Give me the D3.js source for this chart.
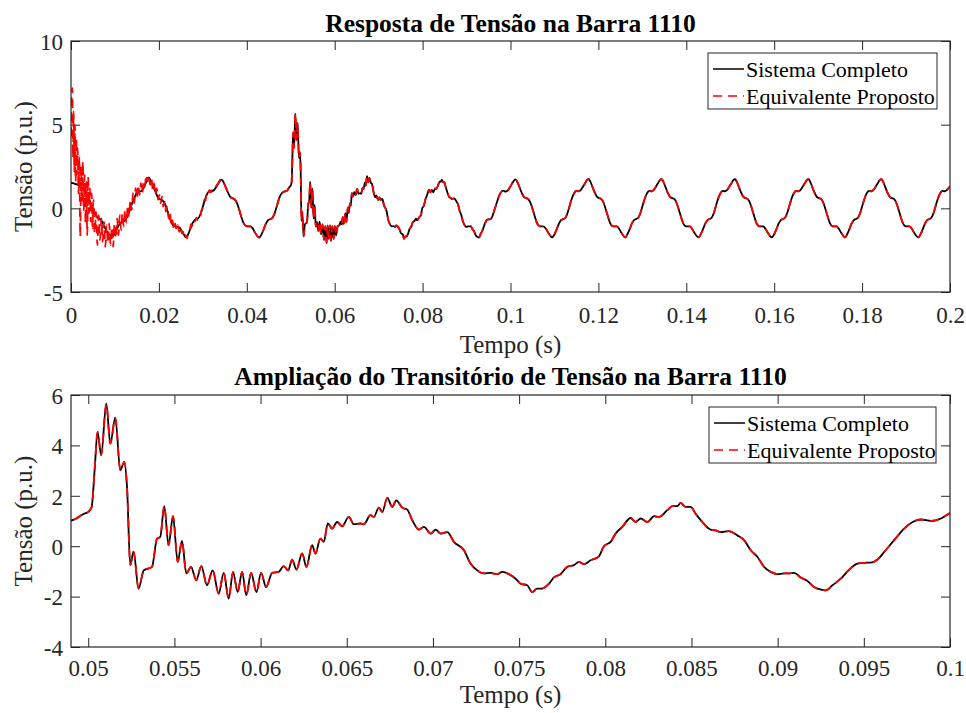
<!DOCTYPE html>
<html>
<head>
<meta charset="utf-8">
<script src="https://cdn.jsdelivr.net/npm/d3@7"></script>
<style>
  body { margin: 0; background: #fff; }
  svg { display: block; }
  text { font-family: "Liberation Serif", "Times New Roman", serif; }
</style>
</head>
<body>
<svg id="fig" width="966" height="713"></svg>
<script>
// Bus 1110 voltage (p.u.) versus time (ms) — full system model
const sistemaCompleto = [
  [0,1.52],[0.5,1.5],[1,1.45],[1.5,1.42],[2,1.3],[2.5,1.2],[3,1.05],[3.5,0.85],[4,0.6],[4.5,0.3],
  [5,0],[5.5,-0.3],[6,-0.55],[6.5,-0.62],[7,-0.75],[7.5,-1.05],[8,-1.3],[8.5,-1.5],[9,-1.62],[9.4,-1.68],
  [9.9,-1.52],[10.4,-1.25],[10.9,-1],[11.4,-0.85],[11.9,-0.8],[12.4,-0.65],[12.9,-0.45],[13.4,-0.1],[13.9,0.3],[14.4,0.62],
  [14.9,0.88],[15.4,1],[15.9,1.02],[16.4,1.15],[16.9,1.45],[17.4,1.75],[17.7,1.85],[18.2,1.6],[18.7,1.3],[19.2,1],
  [19.7,0.7],[20.2,0.55],[20.7,0.5],[21.2,0.35],[21.7,0.05],[22.2,-0.35],[22.7,-0.75],[23.2,-1],[23.7,-1.08],[24.2,-1.1],
  [24.7,-1.15],[25.2,-1.35],[25.7,-1.58],[26.1,-1.74],[26.6,-1.58],[27.1,-1.25],[27.6,-0.92],[28.1,-0.7],[28.6,-0.64],[29.1,-0.55],
  [29.6,-0.25],[30.1,0.2],[30.6,0.62],[31.1,0.92],[31.6,1.04],[32.1,1.02],[32.6,1.1],[33.1,1.3],[33.6,1.52],[34,1.68],
  [34.3,1.72],[34.8,1.52],[35.3,1.2],[35.8,0.9],[36.3,0.66],[36.8,0.6],[37.3,0.52],[37.8,0.3],[38.3,-0.1],[38.8,-0.55],
  [39.3,-0.9],[39.8,-1.05],[40.3,-1.08],[40.8,-1.08],[41.3,-1.18],[41.8,-1.42],[42.3,-1.62],[42.8,-1.75],[43.3,-1.58],[43.8,-1.28],
  [44.3,-0.95],[44.8,-0.72],[45.3,-0.65],[45.8,-0.58],[46.3,-0.32],[46.8,0.1],[47.3,0.55],[47.8,0.85],[48.3,0.98],[48.8,1.02],
  [49.05,1.03],[49.3,1.1],[49.7,1.27],[50,1.36],[50.2,1.56],[50.37,3.01],[50.54,4.54],[50.75,3.61],[51.05,5.66],[51.28,4.07],
  [51.57,5.1],[51.86,3.01],[52.09,3.35],[52.25,2.35],[52.44,-0.75],[52.63,-0.22],[52.92,-1.68],[53.22,-0.96],[53.7,-0.82],[53.99,0.3],
  [54.18,0.37],[54.41,1.59],[54.66,0.04],[54.92,1.19],[55.19,-0.62],[55.44,0.21],[55.69,-1.08],[55.96,-0.82],[56.27,-1.35],[56.56,-0.79],
  [56.89,-1.55],[57.22,-0.96],[57.57,-1.88],[57.86,-1.06],[58.15,-2.08],[58.4,-1.02],[58.67,-1.82],[58.93,-1.02],[59.17,-1.95],[59.45,-1.06],
  [59.76,-1.82],[60.03,-1.06],[60.32,-1.62],[60.67,-1.06],[61.05,-1.02],[61.34,-0.79],[61.6,-0.96],[61.83,-0.53],[62.08,-0.93],[62.41,-0.29],
  [62.66,-0.82],[62.99,0.04],[63.18,-0.29],[63.47,0.3],[63.67,0.17],[63.9,0.9],[64.15,0.7],[64.44,0.96],[64.73,0.79],[65.12,1.16],
  [65.41,0.87],[65.8,0.9],[65.99,0.87],[66.38,1.23],[66.57,1.16],[66.86,1.53],[67.06,1.36],[67.35,1.92],[67.64,1.56],[67.87,1.82],
  [68.22,1.53],[68.51,1.45],[68.8,1.03],[69.19,0.66],[69.48,0.77],[69.87,0.5],[70.16,0.66],[70.45,0.5],[70.83,0.56],[71.22,0.17],
  [71.8,-0.16],[72.18,-0.69],[72.57,-0.96],[72.96,-1.08],[73.34,-1.06],[73.73,-1.11],[74.02,-1.02],[74.41,-1.11],[74.8,-1.29],[75.09,-1.49],
  [75.47,-1.55],[75.76,-1.82],[76.05,-1.68],[76.34,-1.68],[76.73,-1.49],[77.02,-1.24],[77.4,-1.11],[77.79,-0.82],[78.18,-0.75],[78.47,-0.62],
  [78.76,-0.71],[79.15,-0.56],[79.63,-0.4],[79.92,0],[80.31,0.17],[80.6,0.5],[80.99,0.77],[81.47,1.12],[81.76,0.96],[82.06,1.1],
  [82.44,0.96],[82.83,1.19],[83.12,1.16],[83.6,1.43],[83.89,1.59],[84.18,1.59],[84.37,1.72],[84.66,1.56],[84.95,1.56],[85.24,1.29],
  [85.63,0.96],[86.11,0.66],[86.4,0.63],[86.69,0.56],[87.17,0.6],[87.66,0.43],[88.05,0.24],[88.44,-0.16],[88.82,-0.42],[89.21,-0.82],
  [89.6,-1.02],[89.99,-1.11],[90.37,-1.08],[90.66,-1.08],[90.95,-1.06],[91.34,-1.24],[91.73,-1.38],[92.11,-1.62],[92.5,-1.72],[92.79,-1.75],
  [93.18,-1.55],[93.66,-1.29],[94.15,-0.93],[94.63,-0.69],[95.02,-0.66],[95.41,-0.65],[95.8,-0.53],[96.18,-0.23],[96.76,0.24],[97.34,0.7],
  [97.83,0.96],[98.31,1.06],[98.9,1],[99.48,1.1],[100,1.32],
  [100.6,1.58],[101.1,1.73],[101.6,1.56],[102.1,1.22],[102.6,0.9],[103.1,0.67],[103.6,0.61],[104.1,0.54],[104.6,0.3],[105.1,-0.1],
  [105.6,-0.55],[106.1,-0.92],[106.6,-1.06],[107.1,-1.08],[107.6,-1.09],[108.1,-1.24],[108.6,-1.46],[109.1,-1.65],[109.45,-1.74],
  [110,-1.56],[110.5,-1.26],[111,-0.93],[111.5,-0.71],[112,-0.64],[112.5,-0.56],[113,-0.26],[113.5,0.19],[114,0.62],[114.5,0.92],
  [115,1.04],[115.5,1.02],[116,1.1],[116.5,1.3],[117,1.52],[117.4,1.68],[117.8,1.74],[118.2,1.58],[118.7,1.25],[119.2,0.92],
  [119.7,0.68],[120.2,0.61],[120.7,0.55],[121.2,0.32],[121.7,-0.08],[122.2,-0.52],[122.7,-0.9],[123.2,-1.06],[123.7,-1.08],[124.2,-1.08],
  [124.7,-1.22],[125.2,-1.44],[125.7,-1.64],[126.1,-1.74],
  [126.6,-1.55],[127.1,-1.25],[127.6,-0.92],[128.1,-0.7],[128.6,-0.64],[129.1,-0.55],[129.6,-0.25],[130.1,0.2],[130.6,0.62],[131.1,0.92],
  [131.6,1.04],[132.1,1.02],[132.6,1.1],[133.1,1.3],[133.6,1.52],[134,1.68],[134.4,1.74],[134.8,1.58],[135.3,1.25],[135.8,0.92],
  [136.3,0.68],[136.8,0.61],[137.3,0.55],[137.8,0.32],[138.3,-0.08],[138.8,-0.52],[139.3,-0.9],[139.8,-1.06],[140.3,-1.08],[140.8,-1.08],
  [141.3,-1.22],[141.8,-1.44],[142.3,-1.64],[142.8,-1.74],
  [143.3,-1.55],[143.8,-1.25],[144.3,-0.92],[144.8,-0.7],[145.3,-0.64],[145.8,-0.55],[146.3,-0.25],[146.8,0.2],[147.3,0.62],[147.8,0.92],
  [148.3,1.04],[148.8,1.02],[149.3,1.1],[149.8,1.3],[150.3,1.52],[150.7,1.68],[151.1,1.74],[151.5,1.58],[152,1.25],[152.5,0.92],
  [153,0.68],[153.5,0.61],[154,0.55],[154.5,0.32],[155,-0.08],[155.5,-0.52],[156,-0.9],[156.5,-1.06],[157,-1.08],[157.5,-1.08],
  [158,-1.22],[158.5,-1.44],[159,-1.64],[159.45,-1.74],
  [160,-1.55],[160.5,-1.25],[161,-0.92],[161.5,-0.7],[162,-0.64],[162.5,-0.55],[163,-0.25],[163.5,0.2],[164,0.62],[164.5,0.92],
  [165,1.04],[165.5,1.02],[166,1.1],[166.5,1.3],[167,1.52],[167.4,1.68],[167.8,1.74],[168.2,1.58],[168.7,1.25],[169.2,0.92],
  [169.7,0.68],[170.2,0.61],[170.7,0.55],[171.2,0.32],[171.7,-0.08],[172.2,-0.52],[172.7,-0.9],[173.2,-1.06],[173.7,-1.08],[174.2,-1.08],
  [174.7,-1.22],[175.2,-1.44],[175.7,-1.64],[176.1,-1.74],
  [176.6,-1.55],[177.1,-1.25],[177.6,-0.92],[178.1,-0.7],[178.6,-0.64],[179.1,-0.55],[179.6,-0.25],[180.1,0.2],[180.6,0.62],[181.1,0.92],
  [181.6,1.04],[182.1,1.02],[182.6,1.1],[183.1,1.3],[183.6,1.52],[184,1.68],[184.4,1.74],[184.8,1.58],[185.3,1.25],[185.8,0.92],
  [186.3,0.68],[186.8,0.61],[187.3,0.55],[187.8,0.32],[188.3,-0.08],[188.8,-0.52],[189.3,-0.9],[189.8,-1.06],[190.3,-1.08],[190.8,-1.08],
  [191.3,-1.22],[191.8,-1.44],[192.3,-1.64],[192.8,-1.74],
  [193.3,-1.55],[193.8,-1.25],[194.3,-0.92],[194.8,-0.7],[195.3,-0.64],[195.8,-0.55],[196.3,-0.25],[196.8,0.2],[197.3,0.62],[197.8,0.92],
  [198.3,1.04],[198.8,1.02],[199.3,1.1],[199.8,1.25],[200,1.3]
];

// Proposed equivalent: numerical start-up oscillation over the first ~36 ms
const equivalenteInicio = [
  [0,4.3],[0.15,6.6],[0.3,7.2],[0.45,3],[0.6,5.8],[0.75,2.2],[0.9,5],[1.05,1.6],[1.2,4.2],[1.35,2],
  [1.5,3.6],[1.7,0.9],[1.9,3.1],[2.1,-1.7],[2.3,2.5],[2.5,0.4],[2.7,2.8],[2.9,-0.2],[3.1,2],[3.3,-0.9],
  [3.5,1.6],[3.7,-1.6],[3.9,1.9],[4.1,-0.3],[4.3,1.2],[4.5,-0.8],[4.7,0.9],[4.9,-1.2],[5.1,0.5],[5.4,-1.5],
  [5.7,-0.2],[6,-2.2],[6.3,-0.4],[6.6,-1.9],[6.9,-0.6],[7.2,-2],[7.5,-0.8],[7.8,-2.3],[8.1,-1],[8.4,-2.1],
  [8.7,-0.9],[9,-2.2],[9.3,-1.1],[9.6,-2.3],[9.9,-0.9],[10.2,-1.8],[10.5,-0.6],[10.8,-1.6],[11.1,-0.4],[11.4,-1.3],
  [11.7,-0.3],[12,-1.1],[12.3,-0.1],[12.6,-0.9],[12.9,0.2],[13.2,-0.5],[13.5,0.5],[13.8,-0.1],[14.1,0.9],[14.4,0.3],
  [14.7,1.2],[15,0.6],[15.3,1.4],[15.6,0.8],[15.9,1.5],[16.2,0.9],[16.5,1.6],[16.8,1.3],[17.1,2],[17.4,1.6],
  [17.7,2],[18,1.4],[18.3,1.8],[18.6,1.1],[18.9,1.5],[19.2,0.8],[19.5,1.2],[19.8,0.5],[20.1,0.8],[20.4,0.3],
  [20.7,0.7],[21,0.1],[21.3,0.4],[21.6,-0.2],[21.9,0.1],[22.2,-0.6],[22.5,-0.2],[22.8,-1],[23.1,-0.7],[23.4,-1.3],
  [23.7,-0.9],[24,-1.3],[24.3,-1],[24.6,-1.4],[24.9,-1.1],[25.2,-1.5],[25.5,-1.4],[25.8,-1.8],[26.1,-1.6],[26.4,-1.8],
  [26.7,-1.4],[27,-1.35],[27.3,-0.95],[27.6,-1.05],[27.9,-0.7],[28.2,-0.8],[28.5,-0.55],[28.8,-0.7],[29.1,-0.45],[29.4,-0.5],
  [29.7,-0.1],[30,0.05],[30.3,0.5],[30.6,0.45],[30.9,0.95],[31.2,0.85],[31.5,1.1],[31.8,0.95],[32.1,1.1],[32.5,1.05],
  [33,1.32],[33.5,1.5],[34,1.72],[34.3,1.75],[34.8,1.5],[35.3,1.2],[35.8,0.9]
];

// After the start-up interval the equivalent follows the full system trace
const fimInicio = equivalenteInicio[equivalenteInicio.length - 1][0];
const equivalenteProposto = equivalenteInicio.concat(sistemaCompleto.filter(d => d[0] > fimInicio));

// Axis ticks (time in ms, labelled in seconds)
const topoTicksX = [0, 20, 40, 60, 80, 100, 120, 140, 160, 180, 200];
const topoRotulosX = ["0", "0.02", "0.04", "0.06", "0.08", "0.1", "0.12", "0.14", "0.16", "0.18", "0.2"];
const topoTicksY = [-5, 0, 5, 10];
const baseTicksX = [50, 55, 60, 65, 70, 75, 80, 85, 90, 95, 100];
const baseRotulosX = ["0.05", "0.055", "0.06", "0.065", "0.07", "0.075", "0.08", "0.085", "0.09", "0.095", "0.1"];
const baseTicksY = [-4, -2, 0, 2, 4, 6];

const nomesSeries = ["Sistema Completo", "Equivalente Proposto"];

const FONTE = "'Liberation Serif', 'Times New Roman', serif";
const svg = d3.select("#fig");
const corEixo = "#262626";

function painel(cfg, id) {
  const { L, R, T, B } = cfg.box;
  const x = d3.scaleLinear().domain(cfg.xDom).range([L, R]);
  const y = d3.scaleLinear().domain(cfg.yDom).range([B, T]);

  svg.append("clipPath").attr("id", "clip" + id)
    .append("rect").attr("x", L).attr("y", T).attr("width", R - L).attr("height", B - T);

  // tick marks on all four sides, pointing inward
  const ax = (gen, tx, ty) => svg.append("g").attr("transform", `translate(${tx},${ty})`).call(gen)
    .attr("font-family", FONTE);
  const styleAxis = g => {
    g.select(".domain").remove();
    g.selectAll(".tick line").attr("stroke", corEixo).attr("stroke-width", 1);
    g.selectAll("text").attr("fill", corEixo).attr("font-size", 23);
  };

  const gb = ax(d3.axisBottom(x).tickValues(cfg.xTicks).tickFormat((d, i) => cfg.xLabels[i]).tickSize(-9).tickSizeOuter(0), 0, B);
  styleAxis(gb);
  gb.selectAll("text").attr("y", cfg.xTickBase).attr("dy", null);

  const gt = ax(d3.axisTop(x).tickValues(cfg.xTicks).tickFormat("").tickSize(-9).tickSizeOuter(0), 0, T);
  styleAxis(gt);

  const gl = ax(d3.axisLeft(y).tickValues(cfg.yTicks).tickFormat(d => d < 0 ? "-" + Math.abs(d) : String(d)).tickSize(-9).tickSizeOuter(0), L, 0);
  styleAxis(gl);
  gl.selectAll("text").attr("x", -8).attr("dy", "0.36em");

  const gr = ax(d3.axisRight(y).tickValues(cfg.yTicks).tickFormat("").tickSize(-9).tickSizeOuter(0), R, 0);
  styleAxis(gr);

  // series
  const linha = d3.line().x(d => x(d[0])).y(d => y(d[1])).curve(d3.curveMonotoneX);
  const dentro = d => d[0] >= cfg.xDom[0] - 1 && d[0] <= cfg.xDom[1] + 1;
  const g = svg.append("g").attr("clip-path", `url(#clip${id})`);
  g.append("path").datum(sistemaCompleto.filter(dentro))
    .attr("d", linha).attr("fill", "none").attr("stroke", "#000").attr("stroke-width", 1.8)
    .attr("stroke-linejoin", "round");
  g.append("path").datum(equivalenteProposto.filter(dentro))
    .attr("d", linha).attr("fill", "none").attr("stroke", "#ff0000").attr("stroke-width", 1.8)
    .attr("stroke-dasharray", "9,6").attr("stroke-linejoin", "round");

  // box
  svg.append("rect").attr("x", L).attr("y", T).attr("width", R - L).attr("height", B - T)
    .attr("fill", "none").attr("stroke", corEixo).attr("stroke-width", 1.2);

  // titles and labels
  svg.append("text").attr("x", (L + R) / 2).attr("y", cfg.titleBase).attr("text-anchor", "middle")
    .attr("font-size", 25.5).attr("font-weight", "bold").attr("fill", "#000").text(cfg.title);
  svg.append("text").attr("x", (L + R) / 2).attr("y", cfg.xLabelBase).attr("text-anchor", "middle")
    .attr("font-size", 25).attr("fill", corEixo).text("Tempo (s)");
  svg.append("text").attr("transform", `translate(32,${(T + B) / 2}) rotate(-90)`).attr("text-anchor", "middle")
    .attr("font-size", 25).attr("fill", corEixo).text("Tensão (p.u.)");

  // legend
  const lg = cfg.legend;
  const gl2 = svg.append("g");
  gl2.append("rect").attr("x", lg.x).attr("y", lg.y).attr("width", lg.w).attr("height", lg.h)
    .attr("fill", "#fff").attr("stroke", corEixo).attr("stroke-width", 1);
  const estilos = [{ c: "#000", dash: null }, { c: "#ff0000", dash: "9,6" }];
  nomesSeries.forEach((nome, i) => {
    const cy = lg.y + 16 + i * 27;
    gl2.append("line").attr("x1", lg.x + 5).attr("x2", lg.x + 36).attr("y1", cy).attr("y2", cy)
      .attr("stroke", estilos[i].c).attr("stroke-width", 1.5).attr("stroke-dasharray", estilos[i].dash);
    gl2.append("text").attr("x", lg.x + 38).attr("y", cy + 7.5).attr("font-size", 22)
      .attr("fill", "#000").text(nome);
  });
}

painel({
  box: { L: 71, R: 950, T: 41, B: 292 },
  xDom: [0, 200], yDom: [-5, 10],
  xTicks: topoTicksX, xLabels: topoRotulosX, yTicks: topoTicksY,
  xTickBase: 31, xLabelBase: 353, titleBase: 32,
  title: "Resposta de Tensão na Barra 1110",
  legend: { x: 708, y: 53, w: 229, h: 56 }
}, "a");

painel({
  box: { L: 71, R: 950, T: 395, B: 647 },
  xDom: [49, 100], yDom: [-4, 6],
  xTicks: baseTicksX, xLabels: baseRotulosX, yTicks: baseTicksY,
  xTickBase: 29, xLabelBase: 703, titleBase: 385,
  title: "Ampliação do Transitório de Tensão na Barra 1110",
  legend: { x: 709, y: 407, w: 227, h: 56 }
}, "b");

svg.selectAll("text").style("font-family", FONTE);
</script>
</body>
</html>
